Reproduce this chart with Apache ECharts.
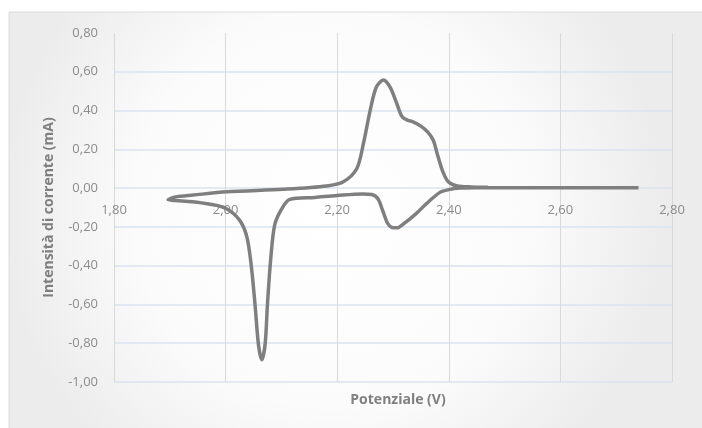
<!DOCTYPE html>
<html>
<head>
<meta charset="utf-8">
<script src="https://cdn.jsdelivr.net/npm/echarts@6/dist/echarts.min.js"></script>
<style>
  html, body { margin: 0; padding: 0; background: #ffffff; }
  #chart { width: 702px; height: 428px; }
</style>
</head>
<body>
<div id="chart"></div>
<script>
// Cyclic voltammogram: potential (V) vs current (mA), traced in scan order
const potential = [
  2.74, 2.60, 2.50, 2.45, 2.42, 2.40, 2.384, 2.36, 2.342, 2.32, 2.307, 2.298,
  2.29, 2.282, 2.273, 2.262, 2.245, 2.20, 2.16, 2.115, 2.10, 2.088, 2.081, 2.075,
  2.071, 2.065, 2.059, 2.053, 2.046, 2.038, 2.025, 2.00, 1.97, 1.94, 1.91, 1.897,
  1.91, 1.942, 2.002, 2.103, 2.181, 2.211, 2.235, 2.247, 2.259, 2.27, 2.283,
  2.295, 2.305, 2.316, 2.326, 2.336, 2.35, 2.362, 2.372, 2.38, 2.39, 2.40,
  2.415, 2.44, 2.47
];
const current = [
  0.002, 0.002, 0.002, 0.002, 0.0, -0.008, -0.022, -0.08, -0.13, -0.182, -0.205, -0.203,
  -0.18, -0.12, -0.055, -0.033, -0.03, -0.038, -0.048, -0.058, -0.11, -0.19, -0.36, -0.60,
  -0.80, -0.885, -0.81, -0.61, -0.40, -0.25, -0.165, -0.104, -0.082, -0.07, -0.064, -0.06,
  -0.046, -0.036, -0.019, -0.006, 0.011, 0.033, 0.10, 0.23, 0.40, 0.52, 0.558,
  0.52, 0.45, 0.37, 0.35, 0.342, 0.32, 0.29, 0.248, 0.17, 0.08, 0.03,
  0.011, 0.006, 0.005
];
const xTicks = { min: 1.8, max: 2.8, step: 0.2 };
const yTicks = { min: -1.0, max: 0.8, step: 0.2 };

const curve = potential.map((v, i) => [v, current[i]]);
const fmt = v => Number(v).toFixed(2).replace('.', ',');
const labelColor = '#8c8c8c';
const fontFamily = 'Open Sans, Liberation Sans, sans-serif';

// plot box, used to lift the potential labels up to the zero-current line
const plotTop = 33, plotBottom = 46, chartH = 428;
const plotH = chartH - plotTop - plotBottom;
const zeroLineOffset = plotH * (0 - yTicks.min) / (yTicks.max - yTicks.min);

const chart = echarts.init(document.getElementById('chart'), null, { renderer: 'canvas' });
chart.setOption({
  animation: false,
  backgroundColor: '#ffffff',
  title: {
    text: 'Potenziale (V)',
    left: 393, top: 388,
    textAlign: 'center',
    textStyle: { color: '#7f7f7f', fontSize: 14, fontWeight: 'bold', fontFamily: fontFamily }
  },
  graphic: [{
    type: 'rect',
    z: -10,
    shape: { x: 9, y: 12, width: 720, height: 440 },
    style: {
      fill: new echarts.graphic.RadialGradient(0.45, 0.45, 0.75, [
        { offset: 0, color: '#ffffff' },
        { offset: 0.6, color: '#fbfbfb' },
        { offset: 1, color: '#ececec' }
      ]),
      stroke: '#dcdcdc',
      lineWidth: 1
    }
  }],
  grid: { left: 114, right: 30, top: plotTop, bottom: plotBottom, containLabel: false },
  xAxis: {
    type: 'value',
    position: 'bottom',
    min: xTicks.min, max: xTicks.max, interval: xTicks.step,
    axisLine: { show: false, onZero: false },
    axisTick: { show: false },
    axisLabel: {
      formatter: fmt, color: labelColor, fontSize: 13, fontFamily: fontFamily,
      margin: 16 - zeroLineOffset
    },
    splitLine: { show: true, lineStyle: { color: '#d9d9d9', width: 1 } }
  },
  yAxis: {
    type: 'value',
    min: yTicks.min, max: yTicks.max, interval: yTicks.step,
    axisLine: { show: false, onZero: false },
    axisTick: { show: false },
    axisLabel: {
      formatter: fmt, color: labelColor, fontSize: 13, fontFamily: fontFamily, margin: 16
    },
    splitLine: {
      show: true,
      lineStyle: {
        color: ['#dae3f3', '#dae3f3', '#dae3f3', '#dae3f3', '#dae3f3',
                '#dae3f3', '#dae3f3', '#dae3f3', '#dae3f3', 'rgba(0,0,0,0)'],
        width: 1.5
      }
    },
    name: 'Intensità di corrente (mA)',
    nameLocation: 'middle',
    nameGap: 58,
    nameTextStyle: { color: '#7f7f7f', fontSize: 14, fontWeight: 'bold', fontFamily: fontFamily }
  },
  series: [{
    type: 'line',
    data: curve,
    smooth: 0.3,
    showSymbol: false,
    lineStyle: { color: '#7f7f7f', width: 3.5 }
  }]
});
</script>
</body>
</html>
